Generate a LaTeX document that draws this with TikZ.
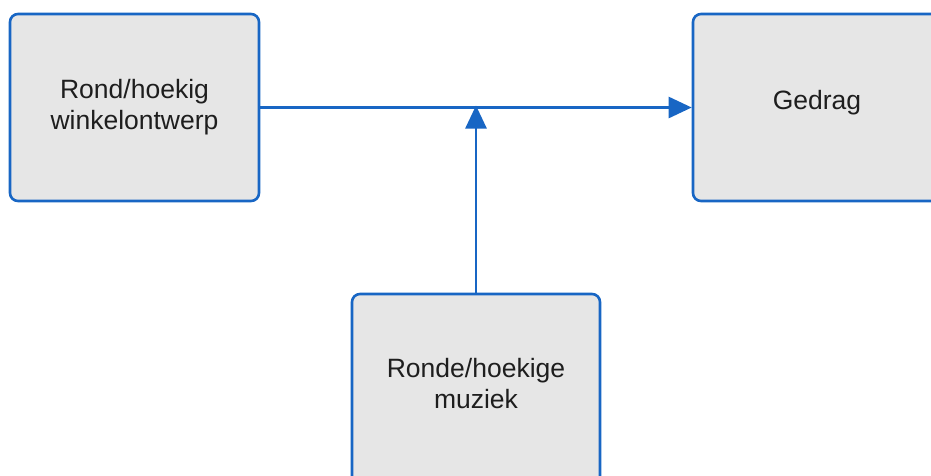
\documentclass[tikz,border=0pt]{standalone}
\usepackage{fontspec}
\setmainfont{Liberation Sans}
\usetikzlibrary{arrows.meta}
\definecolor{edgeblue}{RGB}{24,102,196}
\definecolor{boxfill}{RGB}{230,230,230}
\definecolor{textcol}{RGB}{30,30,30}
\tikzset{
  block/.style={draw=edgeblue, fill=boxfill, line width=2.6pt, rounded corners=8pt,
    align=center, text=textcol, inner sep=0pt,
    font=\fontsize{26.5pt}{31pt}\selectfont},
  label text/.style={text=textcol, align=center,
    font=\fontsize{26.5pt}{31pt}\selectfont},
  link/.style={draw=edgeblue, line width=2.6pt,
    -{Triangle[length=23pt,width=21pt]}},
}
\begin{document}
\begin{tikzpicture}[x=1pt,y=-1pt]
  \useasboundingbox (0,0) rectangle (931,475);
  % left: shop design
  \node[block, minimum width=249pt, minimum height=187pt] (design) at (134.5,107.5)
    {Rond/hoekig\\winkelontwerp};
  % right: behaviour (runs off the right edge)
  \node[block, minimum width=252pt, minimum height=187pt] (behaviour) at (819,107.5) {};
  \node[label text] (behaviourlabel) at (817,103) {Gedrag};
  % bottom: music (runs off the bottom edge)
  \node[block, minimum width=248pt, minimum height=200pt] (music) at (476,394) {};
  \node[label text] (musiclabel) at (476,384) {Ronde/hoekige\\muziek};
  % connectors
  \coordinate (join) at (music.north |- design.east);
  \draw[link] (design.east) -- (behaviour.west);
  \draw[link, shorten >=-2pt] (music.north) -- (join);
\end{tikzpicture}
\end{document}
